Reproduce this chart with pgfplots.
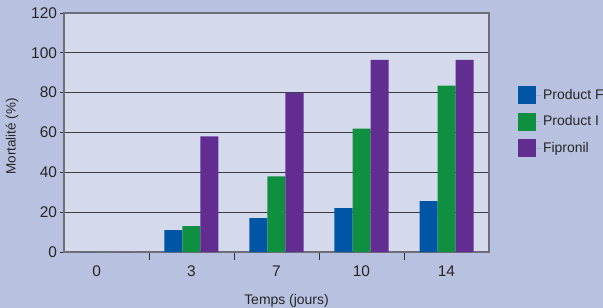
\documentclass[border=0pt]{standalone}
\usepackage{pgfplots}
\pgfplotsset{compat=1.18}
\usepackage{fontspec}
\setmainfont{Liberation Sans}
\definecolor{bgout}{HTML}{B8C2E0}
\definecolor{bgin}{HTML}{D4DAEC}
\definecolor{cF}{HTML}{0055A4}
\definecolor{cI}{HTML}{0F9040}
\definecolor{cP}{HTML}{622D91}
\definecolor{gridc}{HTML}{3A3A40}
\definecolor{bord}{HTML}{6E6E78}
\begin{document}
\begin{tikzpicture}
\fill[bgout,use as bounding box] (-64bp,-56bp) rectangle (539bp,252bp);
\begin{axis}[
  scale only axis,
  width=425bp, height=239bp,
  at={(0,0)}, anchor=south west,
  axis background/.style={fill=bgin},
  ybar=0pt, bar width=18bp,
  ymin=0, ymax=120, ytick={0,20,...,120},
  xmin=-0.5, xmax=4.5,
  xtick={0,1,2,3,4},
  xticklabels={\makebox[8bp][r]{0\hspace*{9.5bp}},3,7,10,14},
  minor xtick={0.5,1.5,2.5,3.5},
  major x tick style={draw=none},
  minor x tick style={draw=black!80, line width=0.8pt},
  minor tick length=8bp,
  y tick style={draw=black!80, line width=0.8pt},
  major tick length=4bp,
  tick align=outside,
  xtick pos=bottom, ytick pos=left,
  ymajorgrids, grid style={gridc, line width=0.9pt},
  axis line style={bord, line width=1.2pt},
  tick label style={font=\fontsize{15.5}{17}\selectfont, text=black!85},
  /pgf/number format/assume math mode=true,
  xticklabel style={yshift=-6bp},
  yticklabel style={xshift=0.5bp},
  ylabel={Mortalité (\%)},
  xlabel={Temps (jours)},
  every axis y label/.style={at={(axis description cs:0,0.5)}, shift={(-52bp,-4bp)}, rotate=90, anchor=center, font=\fontsize{13.5}{15}\selectfont, text=black!85},
  every axis x label/.style={at={(axis description cs:0.5,0)}, shift={(10bp,-49bp)}, anchor=center, font=\fontsize{14}{16}\selectfont, text=black!85},
  legend style={at={(1.068,0.695)}, anchor=north west, draw=none, fill=none,
    font=\fontsize{14}{16}\selectfont, inner sep=0pt,
    nodes={inner sep=1bp, text=black!85},
    row sep=8.5bp},
  legend cell align=left,
  legend image code/.code={\fill[#1] (0bp,-9bp) rectangle (18bp,9bp); \path (0bp,0bp) -- (24bp,0bp);},
]
\addplot[fill=cF, draw=none] coordinates {(0,0) (1,11) (2,17) (3,22) (4,25.5)};
\addplot[fill=cI, draw=none] coordinates {(0,0) (1,13) (2,38) (3,62) (4,83.5)};
\addplot[fill=cP, draw=none] coordinates {(0,0) (1,58) (2,80) (3,96.5) (4,96.5)};
\legend{Product F, Product I, Fipronil}
\end{axis}
\end{tikzpicture}
\end{document}
